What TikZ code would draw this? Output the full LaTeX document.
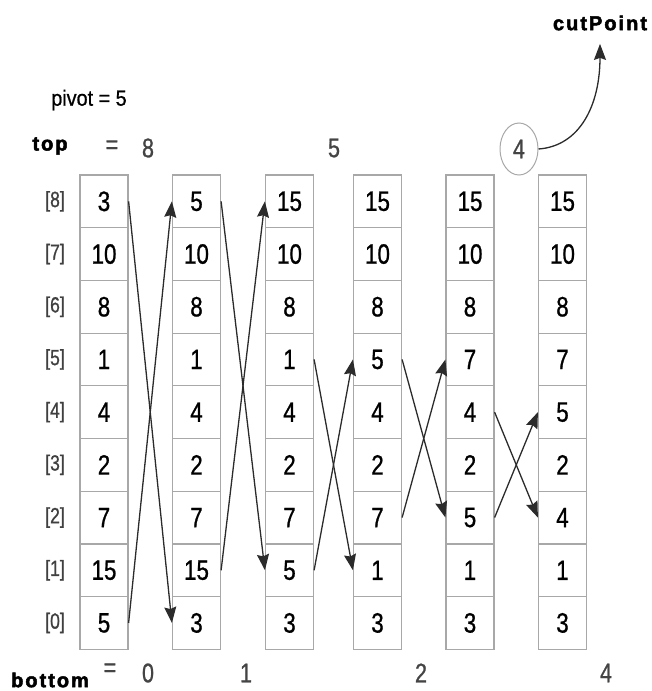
\documentclass[tikz,border=0pt]{standalone}
\usepackage{fontspec}
\setmainfont{Liberation Sans}
\newfontfamily\narrowfont[FakeStretch=0.8,FakeBold=0.8]{Liberation Sans}
\newfontfamily\labelfont[FakeStretch=0.9,FakeBold=0.8]{Liberation Sans}
\newfontfamily\heavyfont[LetterSpace=10,FakeBold=2.5]{Liberation Sans}
\usetikzlibrary{arrows.meta,shapes.geometric}
\definecolor{boxGray}{HTML}{A8A8A8}
\definecolor{lineGray}{HTML}{2B2B2B}
\definecolor{numGray}{HTML}{444444}

\begin{document}
\begin{tikzpicture}[x=1pt,y=-1pt,
  cell/.style={draw=boxGray, line width=1.2pt, minimum width=48pt, minimum height=52.7pt, inner sep=0pt,
    font=\narrowfont\fontsize{28}{28}\selectfont},
  idx/.style={font=\narrowfont\fontsize{22}{22}\selectfont, text=black!75},
  num/.style={font=\narrowfont\fontsize{27}{27}\selectfont, text=numGray},
  kw/.style={font=\heavyfont\bfseries\fontsize{20}{20}\selectfont},
  swaparrow/.style={draw=lineGray, line width=1.3pt, -{Stealth[length=16pt,width=12pt,inset=2pt]}}]
\useasboundingbox (0,0) rectangle (651,691);
% index labels
\foreach \r in {0,...,8}
  \node[idx] (I\r) at (55, {622.95-52.7*\r}) {[\r]};
% the six states of the array
\foreach \col/\x/\vals in {A/104/{3,10,8,1,4,2,7,15,5}, B/196.5/{5,10,8,1,4,2,7,15,3},
    C/289.5/{15,10,8,1,4,2,7,5,3}, D/377.5/{15,10,8,5,4,2,7,1,3},
    E/470/{15,10,8,7,4,2,5,1,3}, F/562.5/{15,10,8,7,5,2,4,1,3}}
  \foreach \v [count=\i from 0] in \vals {
    \pgfmathtruncatemacro{\r}{8-\i}
    \node[cell] (\col\r) at (\x, {201.35+52.7*\i}) {\v};
  }
% pivot and top
\node[font=\labelfont\fontsize{22}{22}\selectfont] (pivot) at (89,100) {pivot = 5};
\node[kw] (top) at (50,146) {top};
\node[num] (topEq) at (112,147) {=};
\node[num] (top1) at (148,148) {8};
\node[num] (top2) at (334,148) {5};
\node[num, draw=boxGray, line width=1pt, ellipse, minimum width=38pt, minimum height=52pt, inner sep=0pt] (top3) at (519,149) {4};
\node[kw] (cutP) at (600,23) {cutPoint};
\draw[swaparrow] (top3.east) .. controls (580,146) and (600,105) .. ([yshift=-10pt]cutP.south);
% bottom
\node[kw] (bottom) at (50,680) {bottom};
\node[num] (botEq) at (110,670) {=};
\node[num] (bot1) at (148,673) {0};
\node[num] (bot2) at (246,673) {1};
\node[num] (bot3) at (421,673) {2};
\node[num] (bot4) at (606,673) {4};
% swaps
\draw[swaparrow] (A8.east) -- (B0.west);
\draw[swaparrow] (A0.east) -- (B8.west);
\draw[swaparrow] (B8.east) -- (C1.west);
\draw[swaparrow] (B1.east) -- (C8.west);
\draw[swaparrow] (C5.east) -- (D1.west);
\draw[swaparrow] (C1.east) -- (D5.west);
\draw[swaparrow] (D5.east) -- (E2.west);
\draw[swaparrow] (D2.east) -- (E5.west);
\draw[swaparrow] (E4.east) -- (F2.west);
\draw[swaparrow] (E2.east) -- (F4.west);
\end{tikzpicture}
\end{document}
